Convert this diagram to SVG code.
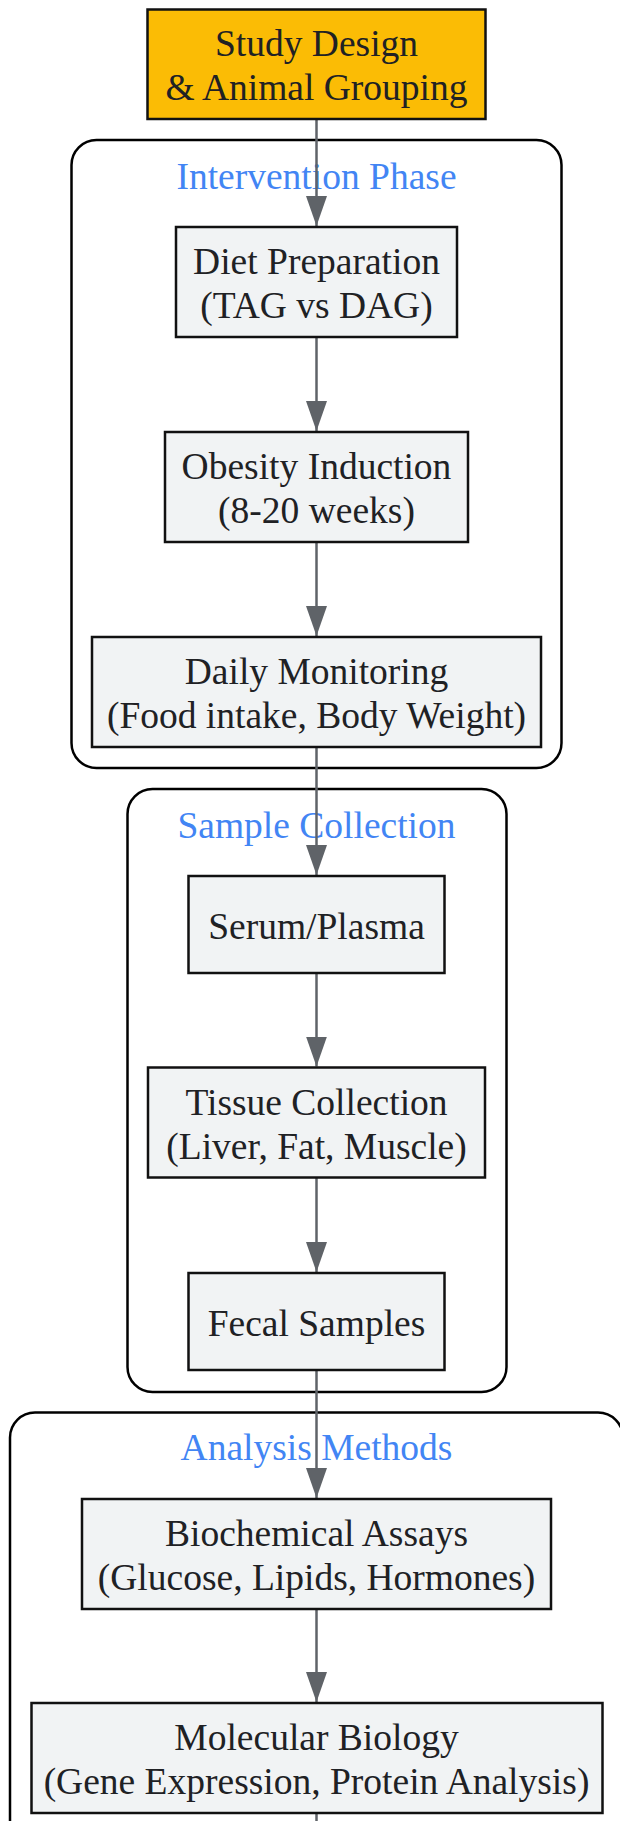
<svg xmlns="http://www.w3.org/2000/svg" width="620" height="1821" viewBox="0 0 620 1821">
<style>
.bg{fill:#ffffff}
.cluster rect{fill:#ffffff;stroke:#000000;stroke-width:2.5}
.cluster text{font-family:"Liberation Serif","Times New Roman",serif;font-size:37.5px;fill:#4285f4;text-anchor:middle}
.node rect{fill:#f1f3f4;stroke:#111111;stroke-width:2.5}
.node.start rect{fill:#fbbc05}
.node text{font-family:"Liberation Serif","Times New Roman",serif;font-size:37.5px;fill:#202124;text-anchor:middle}
.edge{fill:none;stroke:#5f6368;stroke-width:2.5}
</style>
<defs>
<marker id="arrow" viewBox="0 0 30 21" markerWidth="30" markerHeight="21" refX="30" refY="10.5" orient="auto" markerUnits="userSpaceOnUse">
<path d="M0,0 L30,10.5 L0,21 z" fill="#5f6368"/>
</marker>
</defs>
<rect class="bg" x="0" y="0" width="620" height="1821"/>
<g id="clusters">
<g id="intervention" class="cluster">
<rect x="71.5" y="140" width="490" height="628" rx="25" ry="25"/>
<text x="316.5" y="189">Intervention Phase</text>
</g>
<g id="sample" class="cluster">
<rect x="127.5" y="789" width="379" height="603" rx="25" ry="25"/>
<text x="316.5" y="838">Sample Collection</text>
</g>
<g id="analysis" class="cluster">
<rect x="10" y="1412.5" width="613" height="500" rx="25" ry="25"/>
<text x="316.5" y="1460">Analysis Methods</text>
</g>
</g>
<g id="connectors">
<path class="edge" d="M316.5,119 L316.5,226" marker-end="url(#arrow)"/>
<path class="edge" d="M316.5,337 L316.5,431" marker-end="url(#arrow)"/>
<path class="edge" d="M316.5,542 L316.5,636" marker-end="url(#arrow)"/>
<path class="edge" d="M316.5,747 L316.5,875" marker-end="url(#arrow)"/>
<path class="edge" d="M316.5,973 L316.5,1066.5" marker-end="url(#arrow)"/>
<path class="edge" d="M316.5,1177.5 L316.5,1272" marker-end="url(#arrow)"/>
<path class="edge" d="M316.5,1370 L316.5,1498" marker-end="url(#arrow)"/>
<path class="edge" d="M316.5,1609 L316.5,1702" marker-end="url(#arrow)"/>
<path class="edge" d="M316.5,1813 L316.5,1830"/>
</g>
<g id="study-design" class="node start">
<rect x="147.5" y="9.5" width="338" height="109.5"/>
<text x="316.5" y="56">Study Design</text>
<text x="316.5" y="100">&amp; Animal Grouping</text>
</g>
<g id="diet-preparation" class="node">
<rect x="176" y="227" width="281" height="110"/>
<text x="316.5" y="274">Diet Preparation</text>
<text x="316.5" y="318">(TAG vs DAG)</text>
</g>
<g id="obesity-induction" class="node">
<rect x="165" y="432" width="303" height="110"/>
<text x="316.5" y="479">Obesity Induction</text>
<text x="316.5" y="523">(8-20 weeks)</text>
</g>
<g id="daily-monitoring" class="node">
<rect x="92" y="637" width="449" height="110"/>
<text x="316.5" y="684">Daily Monitoring</text>
<text x="316.5" y="728">(Food intake, Body Weight)</text>
</g>
<g id="serum-plasma" class="node">
<rect x="188.5" y="876" width="256" height="97"/>
<text x="316.5" y="938.5">Serum/Plasma</text>
</g>
<g id="tissue-collection" class="node">
<rect x="148" y="1067.5" width="337" height="110"/>
<text x="316.5" y="1114.5">Tissue Collection</text>
<text x="316.5" y="1158.5">(Liver, Fat, Muscle)</text>
</g>
<g id="fecal-samples" class="node">
<rect x="188.5" y="1273" width="256" height="97"/>
<text x="316.5" y="1335.5">Fecal Samples</text>
</g>
<g id="biochemical-assays" class="node">
<rect x="82" y="1499" width="469" height="110"/>
<text x="316.5" y="1546">Biochemical Assays</text>
<text x="316.5" y="1590">(Glucose, Lipids, Hormones)</text>
</g>
<g id="molecular-biology" class="node">
<rect x="31.5" y="1703" width="571" height="110"/>
<text x="316.5" y="1750">Molecular Biology</text>
<text x="316.5" y="1794">(Gene Expression, Protein Analysis)</text>
</g>
</svg>
